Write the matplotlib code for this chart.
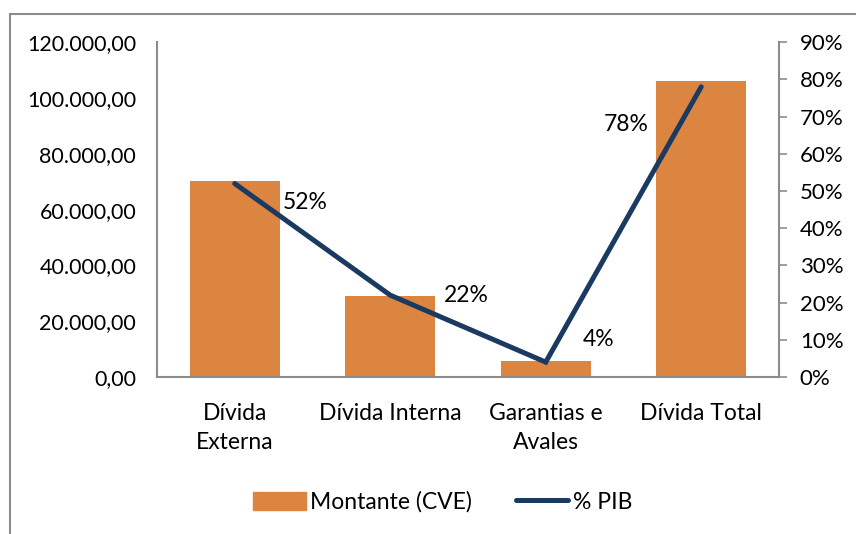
import matplotlib.pyplot as plt
import matplotlib.patches as mpatches
from matplotlib.lines import Line2D
from matplotlib.ticker import FuncFormatter

# Data
categories = ['Dívida\nExterna', 'Dívida Interna', 'Garantias e\nAvales', 'Dívida Total']
montante = [70200, 29000, 5700, 106000]
pct_pib = [0.52, 0.22, 0.04, 0.78]
pct_labels = ['52%', '22%', '4%', '78%']

BAR_COLOR = '#DC8540'
LINE_COLOR = '#1B3A62'
AXIS_COLOR = '#8C8C8C'

plt.rcParams['font.family'] = ['Lato', 'DejaVu Sans']
plt.rcParams['font.size'] = 16

fig = plt.figure(figsize=(8.56, 5.34), dpi=100)
ax = fig.add_axes([0.1834, 0.294, 0.7266, 0.627])

x = list(range(len(categories)))
ax.bar(x, montante, width=0.58, color=BAR_COLOR, zorder=2)
ax.set_xlim(-0.5, len(categories) - 0.5)
ax.set_ylim(0, 120000)
ax.set_yticks(range(0, 120001, 20000))


def fmt_pt(v, pos):
    s = f"{v:,.2f}"
    return s.replace(',', 'X').replace('.', ',').replace('X', '.')


ax.yaxis.set_major_formatter(FuncFormatter(fmt_pt))
ax.set_xticks(x)
ax.set_xticklabels(categories, linespacing=1.45)
ax.tick_params(axis='x', length=0, pad=19, labelsize=16.5)
ax.tick_params(axis='y', length=0, pad=15, labelsize=15.5)
for side in ['top', 'right']:
    ax.spines[side].set_visible(False)
for side in ['left', 'bottom']:
    ax.spines[side].set_color(AXIS_COLOR)
    ax.spines[side].set_linewidth(1.5)

ax2 = ax.twinx()
ax2.plot(x, pct_pib, color=LINE_COLOR, linewidth=3.6, solid_capstyle='round',
         solid_joinstyle='miter', zorder=3)
ax2.set_ylim(0, 0.9)
ax2.set_yticks([i / 10 for i in range(10)])
ax2.yaxis.set_major_formatter(FuncFormatter(lambda v, p: f"{v * 100:.0f}%"))
ax2.tick_params(axis='y', length=6, width=1.2, color=AXIS_COLOR, pad=9, labelsize=16)
for side in ['top', 'left', 'bottom']:
    ax2.spines[side].set_visible(False)
ax2.spines['right'].set_color(AXIS_COLOR)
ax2.spines['right'].set_linewidth(1.5)

offsets = [(51, -14), (55, 0), (38, 16), (-54, -27)]
for xi, yi, lab, off in zip(x, pct_pib, pct_labels, offsets):
    ax2.annotate(lab, (xi, yi), xytext=off, textcoords='offset points',
                 ha='center', va='center', fontsize=16.5)

# legend
handles = [mpatches.Patch(color=BAR_COLOR, label='Montante (CVE)'),
           Line2D([0], [0], color=LINE_COLOR, linewidth=3.6,
                  solid_capstyle='round', label='% PIB')]
fig.legend(handles=handles, loc='center', bbox_to_anchor=(0.517, 0.06), ncol=2,
           frameon=False, fontsize=16.5, handlelength=2.3, handleheight=0.8,
           handletextpad=0.2, columnspacing=1.9)

# chart-area border
border = mpatches.Rectangle((10 / 856, -0.05), 1.2, 1 - 14 / 534 + 0.05,
                            transform=fig.transFigure, fill=False,
                            edgecolor=AXIS_COLOR, linewidth=1.5)
fig.patches.append(border)

fig.savefig('out.png', dpi=100)
